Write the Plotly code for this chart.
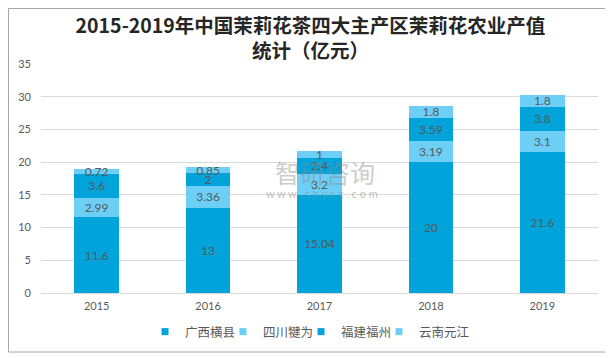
import plotly.graph_objects as go

years = ["2015", "2016", "2017", "2018", "2019"]
guangxi = [11.6, 13, 15.04, 20, 21.6]
sichuan = [2.99, 3.36, 3.2, 3.19, 3.1]
fujian = [3.6, 2, 2.4, 3.59, 3.8]
yunnan = [0.72, 0.85, 1, 1.8, 1.8]
series_names = ["广西横县", "四川犍为", "福建福州", "云南元江"]
y_ticks = [0, 5, 10, 15, 20, 25, 30, 35]

DARK = "#00A3DA"
LIGHT = "#6DCFF6"
colors = [DARK, LIGHT, DARK, LIGHT]
series = [guangxi, sichuan, fujian, yunnan]

FONT = "Lato, 'Noto Sans CJK SC', sans-serif"
LABEL_COLOR = "#595959"

fig = go.Figure()
for name, vals, col in zip(series_names, series, colors):
    fig.add_trace(go.Bar(
        x=years, y=vals, name=name, marker=dict(color=col, line=dict(width=0)),
        text=[str(v) for v in vals], textposition="inside", insidetextanchor="middle",
        constraintext="none", textangle=0,
        textfont=dict(family=FONT, size=12, color=LABEL_COLOR),
        showlegend=False, hoverinfo="skip",
    ))
    # legend entry with a small square symbol
    fig.add_trace(go.Scatter(
        x=[None], y=[None], mode="markers", name=name,
        marker=dict(symbol="square", size=7, color=col), showlegend=True,
        hoverinfo="skip",
    ))
# invisible spacer entry so the last legend label is not clipped
fig.add_trace(go.Scatter(
    x=[None], y=[None], mode="markers", name=" ",
    marker=dict(symbol="square", size=7, color="rgba(0,0,0,0)"), showlegend=True,
    hoverinfo="skip",
))

# page has an 8px body margin; figure coordinates are window coords minus 8
OFF = 8
W, H = 613 - OFF, 358 - OFF
L, T = 41 - OFF, 64 - OFF
R, B = W - (598 - OFF), H - (293 - OFF)
pw, ph = W - L - R, H - T - B

def px_x(p):
    return (p - OFF - L) / pw

def px_y(p):
    return (H - B - (p - OFF)) / ph

fig.add_shape(type="rect", xref="paper", yref="paper",
              x0=px_x(OFF + 0.5), x1=px_x(608), y0=px_y(352), y1=px_y(OFF + 0.5),
              line=dict(color="#A6A6A6", width=1), fillcolor="rgba(0,0,0,0)", layer="below")

# watermark
fig.add_annotation(xref="paper", yref="paper", x=px_x(325), y=px_y(172),
                   text="智研咨询", showarrow=False,
                   font=dict(family="'Noto Sans CJK SC'", size=25, color="rgba(140,140,140,0.45)"))
fig.add_annotation(xref="paper", yref="paper", x=px_x(322), y=px_y(193),
                   text="w w w . c h y x x . c o m", showarrow=False,
                   font=dict(family=FONT, size=11, color="rgba(140,140,140,0.55)"))

fig.update_layout(
    width=W, height=H,
    margin=dict(l=L, r=R, t=T, b=B, autoexpand=False),
    paper_bgcolor="white", plot_bgcolor="white",
    barmode="stack", bargap=0.6,
    font=dict(family=FONT, color=LABEL_COLOR),
    title=dict(
        text="2015-2019年中国茉莉花茶四大主产区茉莉花农业产值<br>统计（亿元）",
        x=0.5, xref="container", xanchor="center",
        y=1 - 25 / H, yref="container", yanchor="middle",
        font=dict(family="'Noto Sans CJK SC'", size=19.5, color="#262626", weight="bold"),
    ),
    xaxis=dict(
        tickfont=dict(family=FONT, size=11, color=LABEL_COLOR),
        showgrid=False, showline=False, ticks="", ticklabelstandoff=5,
    ),
    yaxis=dict(
        range=[0, 35], tickvals=y_ticks,
        tickfont=dict(family=FONT, size=11, color=LABEL_COLOR),
        showgrid=True, gridcolor="#D9D9D9", gridwidth=1, zeroline=True,
        zerolinecolor="#D9D9D9", zerolinewidth=1,
        showline=False, ticks="", ticklabelstandoff=9,
    ),
    legend=dict(
        orientation="h", x=px_x(145), xanchor="left", y=px_y(332), yanchor="middle",
        font=dict(family=FONT, size=12.5, color=LABEL_COLOR),
        itemwidth=30, entrywidth=33, entrywidthmode="pixels",
        traceorder="normal", tracegroupgap=0, bgcolor="rgba(0,0,0,0)",
    ),
)

fig.write_html("out.html")
